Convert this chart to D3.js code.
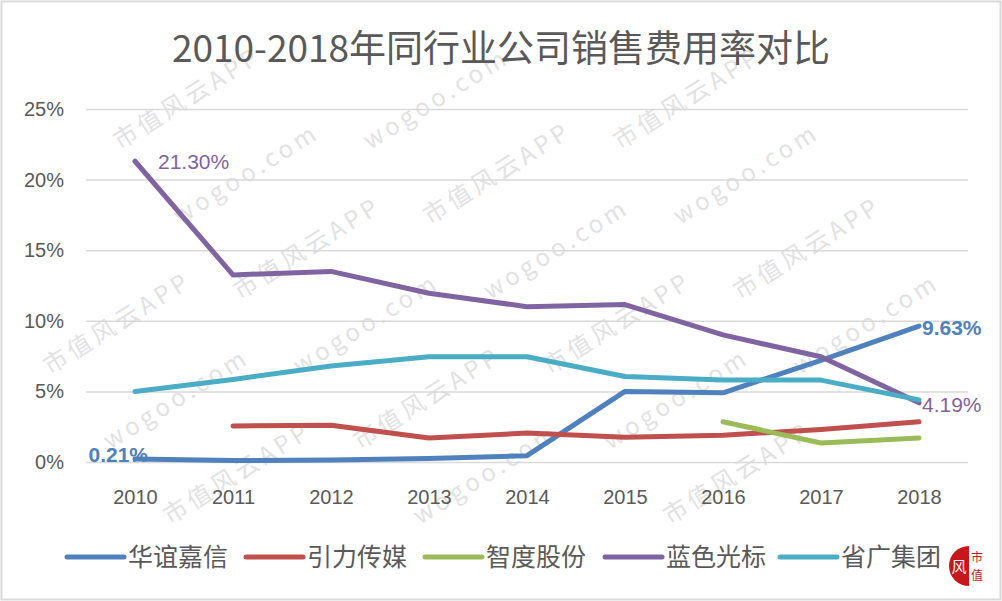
<!DOCTYPE html>
<html>
<head>
<meta charset="utf-8">
<script src="https://cdn.jsdelivr.net/npm/d3@7"></script>
<style>
  body { margin: 0; background: #fff; }
  svg { display: block; }
  text { font-family: "Noto Sans CJK SC", "Noto Sans", sans-serif; }
</style>
</head>
<body>
<script>
'use strict';

// categories
let years = ["2010", "2011", "2012", "2013", "2014", "2015", "2016", "2017", "2018"];

// series values in %, null where a company has no data
let huayi    = [0.21, 0.10, 0.15, 0.25, 0.45, 5.0, 4.9, 7.2, 9.63];
let yinli    = [null, 2.55, 2.6, 1.7, 2.05, 1.75, 1.9, 2.3, 2.85];
let zhidu    = [null, null, null, null, null, null, 2.85, 1.35, 1.7];
let lanse    = [21.30, 13.25, 13.5, 11.95, 11.0, 11.15, 9.0, 7.45, 4.19];
let shengguang = [5.0, 5.85, 6.8, 7.45, 7.45, 6.05, 5.8, 5.8, 4.4];

let seriesNames = ["华谊嘉信", "引力传媒", "智度股份", "蓝色光标", "省广集团"];
let seriesValues = [huayi, yinli, zhidu, lanse, shengguang];
let seriesColors = ["#4f81bd", "#c0504d", "#9bbb59", "#8064a2", "#4bacc6"];

let yTicks = [0, 5, 10, 15, 20, 25];

let title = "2010-2018年同行业公司销售费用率对比";

// chart size
let W = 1002, H = 601;
let plot = { left: 86, right: 968, top: 109, bottom: 462 };

let svg = d3.select("body").append("svg")
  .attr("width", W)
  .attr("height", H);

svg.append("rect")
  .attr("x", 1.5).attr("y", 1.5)
  .attr("width", W - 3).attr("height", H - 3)
  .attr("fill", "#fff")
  .attr("stroke", "#d9d9d9")
  .attr("stroke-width", 2);

// scales
let x = d3.scalePoint()
  .domain(years)
  .range([plot.left, plot.right])
  .padding(0.5);

let y = d3.scaleLinear()
  .domain([0, 25])
  .range([plot.bottom, plot.top]);

// watermark (drawn under the chart), only the copies that fit inside
let wm = svg.append("g").attr("class", "watermark");
for (let r = -6; r < 14; r++) {
  for (let c = -2; c < 8; c++) {
    let px = c * 250 + r * 60;
    let py = r * 75;
    let t = wm.append("text")
      .attr("transform", "translate(" + px + "," + py + ") rotate(-32)")
      .attr("fill", "#e2e2e2")
      .style("font-size", "24px")
      .style("letter-spacing", "4px")
      .text((r + c) % 2 === 0 ? "市值风云APP" : "wogoo.com");
    let b = t.node().getBoundingClientRect();
    if (b.left < 3 || b.top < 3 || b.right > W - 3 || b.bottom > H - 3) t.remove();
  }
}

// horizontal gridlines
svg.append("g")
  .attr("transform", "translate(" + plot.left + ",0)")
  .call(d3.axisLeft(y).tickValues(yTicks).tickSize(-(plot.right - plot.left)).tickFormat(""))
  .call(g => g.select(".domain").remove())
  .call(g => g.selectAll("line").attr("stroke", "#d9d9d9").attr("stroke-width", 1.5));

// y axis labels
svg.append("g")
  .attr("transform", "translate(" + plot.left + ",0)")
  .call(d3.axisLeft(y).tickValues(yTicks).tickSize(0).tickPadding(22).tickFormat(d => d + "%"))
  .call(g => g.select(".domain").remove())
  .call(g => g.selectAll("text")
    .attr("fill", "#595959")
    .style("font-family", "'Liberation Sans', sans-serif")
    .style("font-size", "20px"));

// x axis labels
svg.append("g")
  .attr("transform", "translate(0," + plot.bottom + ")")
  .call(d3.axisBottom(x).tickSize(0).tickPadding(28))
  .call(g => g.select(".domain").remove())
  .call(g => g.selectAll("text")
    .attr("fill", "#595959")
    .style("font-family", "'Liberation Sans', sans-serif")
    .style("font-size", "20px"));

// lines
let line = d3.line()
  .defined(d => d !== null)
  .x((d, i) => x(years[i]))
  .y(d => y(d));

svg.append("g")
  .selectAll("path")
  .data(seriesValues)
  .enter()
  .append("path")
  .attr("d", d => line(d))
  .attr("fill", "none")
  .attr("stroke", (d, i) => seriesColors[i])
  .attr("stroke-width", 5)
  .attr("stroke-linecap", "round")
  .attr("stroke-linejoin", "round");

// data labels
let labels = [
  { s: 3, i: 0, dx: 23, dy: 8, anchor: "start", bold: false },
  { s: 0, i: 0, dx: 13, dy: 3, anchor: "end", bold: true },
  { s: 0, i: 8, dx: 3, dy: 9, anchor: "start", bold: true },
  { s: 3, i: 8, dx: 3, dy: 9, anchor: "start", bold: false }
];

svg.append("g")
  .selectAll("text")
  .data(labels)
  .enter()
  .append("text")
  .attr("x", d => x(years[d.i]) + d.dx)
  .attr("y", d => y(seriesValues[d.s][d.i]) + d.dy)
  .attr("text-anchor", d => d.anchor)
  .attr("fill", d => seriesColors[d.s])
  .style("font-family", "'Liberation Sans', sans-serif")
  .style("font-size", "21px")
  .style("font-weight", d => d.bold ? "bold" : "normal")
  .text(d => seriesValues[d.s][d.i].toFixed(2) + "%");

// title
svg.append("text")
  .attr("x", 501)
  .attr("y", 62)
  .attr("text-anchor", "middle")
  .attr("fill", "#595959")
  .style("font-size", "37px")
  .text(title);

// legend
let legendX = [67, 246, 425, 605, 780];
let legend = svg.append("g")
  .selectAll("g")
  .data(seriesNames)
  .enter()
  .append("g")
  .attr("transform", (d, i) => "translate(" + legendX[i] + ",557)");

legend.append("line")
  .attr("x1", 0).attr("x2", 57)
  .attr("stroke", (d, i) => seriesColors[i])
  .attr("stroke-width", 5)
  .attr("stroke-linecap", "round");

legend.append("text")
  .attr("x", 61)
  .attr("dy", "0.35em")
  .attr("fill", "#595959")
  .style("font-size", "25px")
  .text(d => d);

// logo seal in the corner: red half disc with 风 and 市值 beside it
let logo = svg.append("g").attr("transform", "translate(969,566)");
logo.append("path")
  .attr("d", d3.arc()({ innerRadius: 0, outerRadius: 20, startAngle: Math.PI, endAngle: 2 * Math.PI }))
  .attr("fill", "#c8161d");
logo.append("text")
  .attr("x", -10).attr("y", 6)
  .attr("text-anchor", "middle")
  .attr("fill", "#fff")
  .style("font-size", "15px")
  .text("风");
logo.append("text")
  .attr("x", 2).attr("y", -4)
  .attr("fill", "#c8161d")
  .style("font-size", "12px")
  .text("市");
logo.append("text")
  .attr("x", 2).attr("y", 14)
  .attr("fill", "#c8161d")
  .style("font-size", "12px")
  .text("值");
</script>
</body>
</html>
